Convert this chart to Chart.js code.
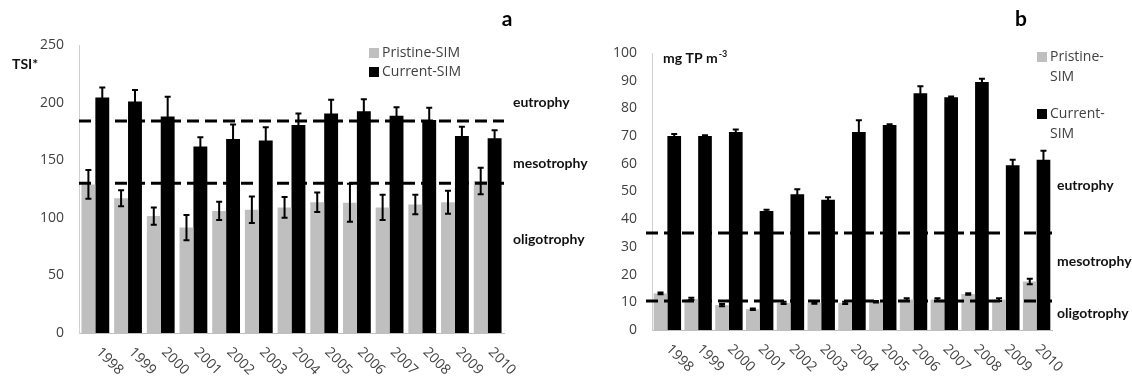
<!DOCTYPE html>
<html>
<head>
<meta charset="utf-8">
<script src="https://cdn.jsdelivr.net/npm/chart.js@4.4.1/dist/chart.umd.min.js"></script>
<style>
  body { margin: 0; background: #fff; }
  #wrap { position: relative; width: 1132px; height: 378px; }
  #tsiChart { position: absolute; left: 0; top: 0; }
  #tpChart { position: absolute; left: 600px; top: 0; }
</style>
</head>
<body>
<div id="wrap">
  <canvas id="tsiChart" width="600" height="378"></canvas>
  <canvas id="tpChart" width="532" height="378"></canvas>
</div>
<script>
const years = ['1998','1999','2000','2001','2002','2003','2004','2005','2006','2007','2008','2009','2010'];
const seriesNames = ['Pristine-SIM', 'Current-SIM'];
const trophicStates = ['eutrophy', 'mesotrophy', 'oligotrophy'];

// TSI* per year
const tsiPristine    = [129, 117, 101.5, 91.5, 106, 107, 109, 113.5, 113, 109, 111.5, 113.5, 132];
const tsiPristineErr = [12.5, 7, 7.5, 11, 8, 11.5, 9, 8.5, 16.5, 11, 8.5, 10, 11.5];
const tsiCurrent     = [204.5, 201, 188, 162, 168.5, 167, 180.5, 190.5, 192.5, 188.5, 185, 171, 169];
const tsiCurrentErr  = [8.5, 10, 17, 8, 12.5, 11.5, 10, 12, 10.5, 7.5, 10.5, 8, 7];
const tsiLimits      = [130, 184];

// total phosphorus, mg TP m-3
const tpPristine    = [13.2, 11.2, 9, 7.5, 9.8, 9.8, 9.8, 10.2, 11, 11, 13, 11, 17.5];
const tpPristineErr = [0.3, 0.4, 0.4, 0.3, 0.4, 0.3, 0.4, 0.3, 0.5, 0.5, 0.3, 0.5, 1];
const tpCurrent     = [70, 70, 71.5, 43, 49, 47, 71.5, 74, 85.5, 84, 89.5, 59.5, 61.5];
const tpCurrentErr  = [0.8, 0.3, 0.9, 0.4, 1.8, 0.9, 4.2, 0.3, 2.5, 0.3, 1.2, 2, 3.2];
const tpLimits      = [10.5, 35];

const FONT = '"Open Sans", sans-serif';
const BOLD = 'Lato, sans-serif';
const TEXT = '#404040';

const trophicPlugin = {
  id: 'trophic',
  afterDatasetsDraw(chart, args, o) {
    const ctx = chart.ctx, area = chart.chartArea, y = chart.scales.y, x = chart.scales.x;
    ctx.save();
    // threshold lines
    ctx.strokeStyle = '#000';
    ctx.lineWidth = 3;
    ctx.setLineDash([12, 6]);
    o.limits.forEach(v => {
      const py = y.getPixelForValue(v);
      ctx.beginPath();
      ctx.moveTo(area.left + (o.lineStart || 0), py);
      ctx.lineTo(area.right, py);
      ctx.stroke();
    });
    ctx.setLineDash([]);
    // error bars
    ctx.lineWidth = 2;
    chart.data.datasets.forEach((ds, i) => {
      chart.getDatasetMeta(i).data.forEach((bar, j) => {
        const v = ds.data[j], e = ds.errors[j];
        const top = y.getPixelForValue(v + e), bot = y.getPixelForValue(v - e);
        ctx.beginPath();
        ctx.moveTo(bar.x, top); ctx.lineTo(bar.x, bot);
        ctx.moveTo(bar.x - 3, top); ctx.lineTo(bar.x + 3, top);
        ctx.moveTo(bar.x - 3, bot); ctx.lineTo(bar.x + 3, bot);
        ctx.stroke();
      });
    });
    // rotated year labels
    ctx.fillStyle = TEXT;
    ctx.font = '14px ' + FONT;
    ctx.textAlign = 'left';
    ctx.textBaseline = 'middle';
    chart.data.labels.forEach((lab, i) => {
      ctx.save();
      ctx.translate(x.getPixelForTick(i) + o.yearDx, area.bottom + 17);
      ctx.rotate(Math.PI / 4);
      ctx.fillText(lab, 0, 0);
      ctx.restore();
    });
    ctx.restore();
  },
  afterDraw(chart, args, o) {
    const ctx = chart.ctx, area = chart.chartArea, y = chart.scales.y;
    ctx.save();
    ctx.textBaseline = 'middle';
    // trophic state names beside the plot
    ctx.fillStyle = '#111';
    ctx.font = 'bold 14px ' + BOLD;
    ctx.textAlign = 'left';
    trophicStates.forEach((s, i) => {
      ctx.fillText(s, area.right + o.stateDx, y.getPixelForValue(o.stateAt[i]));
    });
    // panel letter
    ctx.font = 'bold 21px ' + BOLD;
    ctx.textAlign = 'center';
    ctx.fillStyle = '#000';
    ctx.fillText(o.letter, o.letterPos[0], o.letterPos[1]);
    // axis unit
    ctx.font = 'bold 14px ' + BOLD;
    ctx.textAlign = 'left';
    ctx.fillStyle = '#111';
    ctx.fillText(o.unit, o.unitPos[0], o.unitPos[1]);
    if (o.unitSup) {
      const w = ctx.measureText(o.unit).width;
      ctx.font = 'bold 9px ' + BOLD;
      ctx.fillText(o.unitSup, o.unitPos[0] + w + 1, o.unitPos[1] - 4);
    }
    // legend
    ctx.font = '14px ' + FONT;
    chart.data.datasets.forEach((ds, i) => {
      const lines = o.legendWrap ? ds.label.replace('-', '-\n').split('\n') : [ds.label];
      const ly = o.legendY[i];
      ctx.fillStyle = ds.backgroundColor;
      ctx.fillRect(o.legendX, ly - 5, 10, 10);
      ctx.fillStyle = TEXT;
      lines.forEach((t, k) => ctx.fillText(t, o.legendX + 13, ly + k * o.legendLine));
    });
    ctx.restore();
  }
};

function panel(id, p) {
  return new Chart(document.getElementById(id), {
    type: 'bar',
    data: {
      labels: years,
      datasets: [
        { label: seriesNames[0], data: p.pristine, errors: p.pristineErr, backgroundColor: '#BFBFBF',
          categoryPercentage: p.catPct, barPercentage: 1 },
        { label: seriesNames[1], data: p.current, errors: p.currentErr, backgroundColor: '#000000',
          categoryPercentage: p.catPct, barPercentage: 1 }
      ]
    },
    options: {
      responsive: false,
      animation: false,
      layout: { padding: p.padding },
      plugins: { legend: { display: false }, tooltip: { enabled: false }, trophic: p.deco },
      scales: {
        x: {
          grid: { display: false, drawTicks: false },
          border: { color: '#BFBFBF', width: 1 },
          ticks: { display: false },
          afterFit: s => { s.height = 0; }
        },
        y: {
          min: 0, max: p.max,
          ticks: { stepSize: p.step, padding: 15, color: TEXT, font: { family: FONT, size: 14 } },
          grid: { display: false, drawTicks: false },
          border: { color: '#D0D0D0', width: 1 },
          afterFit: s => { s.width = p.yWidth; }
        }
      }
    },
    plugins: [trophicPlugin]
  });
}

panel('tsiChart', {
  pristine: tsiPristine, pristineErr: tsiPristineErr,
  current: tsiCurrent, currentErr: tsiCurrentErr,
  max: 250, step: 50, catPct: 0.85, yWidth: 50,
  padding: { left: 29, right: 96, top: 45, bottom: 45 },
  deco: {
    limits: tsiLimits, yearDx: 3,
    stateAt: [200, 147.5, 81.5], stateDx: 9,
    letter: 'a', letterPos: [507, 19],
    unit: 'TSI*', unitPos: [12, 64],
    legendX: 369, legendY: [53, 72], legendLine: 20, legendWrap: false
  }
});

panel('tpChart', {
  pristine: tpPristine, pristineErr: tpPristineErr,
  current: tpCurrent, currentErr: tpCurrentErr,
  max: 100, step: 10, catPct: 0.89, yWidth: 40,
  padding: { left: 12, right: 80, top: 53, bottom: 48 },
  deco: {
    limits: tpLimits, yearDx: 1, lineStart: -6,
    stateAt: [52, 24.6, 6.1], stateDx: 5,
    letter: 'b', letterPos: [421, 19],
    unit: 'mg TP m', unitSup: '-3', unitPos: [63, 58],
    legendX: 437, legendY: [57, 114], legendLine: 20, legendWrap: true
  }
});
</script>
</body>
</html>
